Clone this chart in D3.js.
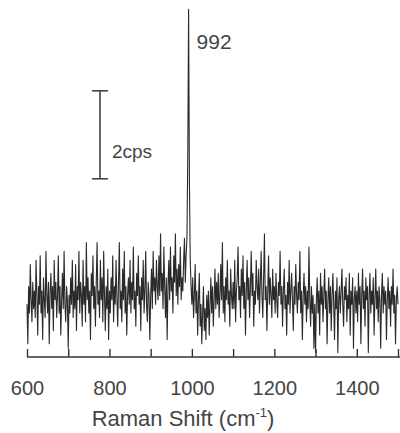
<!DOCTYPE html>
<html>
<head>
<meta charset="utf-8">
<script src="https://cdn.jsdelivr.net/npm/d3@7"></script>
<style>
  body { margin: 0; background: #fff; }
  svg { display: block; }
  text { font-family: "Liberation Sans", Arial, sans-serif; fill: #444; }
</style>
</head>
<body>
<svg id="chart"></svg>
<script>
// spectrum: counts per second every 2 cm-1 starting at 600
const shiftStart = 600;
const shiftStep = 2;
const cps = [
  // 600 - 698
  1.2, 0.3, 1.6, 1.0, 2.1, 1.3, 0.8, 1.7, 1.1, 1.5,
  0.9, 2.2, 1.4, 0.5, 1.6, 1.2, 2.3, 1.0, 1.5, 0.4,
  1.8, 1.3, 0.9, 2.4, 1.4, 1.0, 1.7, 0.3, 1.5, 1.9,
  1.1, 1.6, 0.6, 2.2, 1.3, 1.7, 0.9, 1.4, 2.3, 1.0,
  1.6, 0.5, 1.3, 1.9, 1.1, 2.4, 1.2, 0.8, 1.6, 1.3,
  // 700 - 798
  0.2, 1.4, 1.0, 1.8, 1.2, 2.2, 0.9, 1.5, 1.1, 2.1,
  0.6, 1.6, 1.3, 2.4, 1.0, 1.7, 1.4, 0.7, 2.2, 1.2,
  1.6, 0.8, 2.6, 1.3, 1.8, 1.0, 1.5, 0.4, 1.9, 1.4,
  2.3, 1.1, 1.6, 0.7, 1.7, 2.6, 1.2, 1.5, 0.9, 2.2,
  1.3, 1.8, 0.8, 2.4, 1.4, 0.6, 1.6, 1.1, 2.0, 0.4,
  // 800 - 898
  1.5, 1.0, 1.8, 1.3, 2.3, 0.8, 1.6, 1.2, 2.2, 1.4,
  0.7, 1.7, 2.6, 1.1, 1.5, 0.8, 2.0, 1.3, 2.4, 1.0,
  1.6, 0.5, 1.4, 1.8, 1.2, 2.2, 1.0, 1.7, 1.3, 2.5,
  1.1, 1.5, 0.7, 1.9, 1.4, 2.3, 1.2, 1.6, 0.6, 1.8,
  1.3, 2.2, 1.0, 1.5, 2.4, 1.2, 0.8, 1.7, 1.4, 0.4,
  // 900 - 998
  1.4, 2.0, 1.1, 2.4, 1.5, 1.8, 1.2, 2.2, 1.6, 1.3,
  2.3, 1.4, 2.8, 1.5, 1.9, 1.1, 2.5, 1.6, 0.9, 1.8,
  0.4, 1.6, 2.2, 1.3, 2.5, 1.5, 1.8, 1.0, 2.3, 1.7,
  2.8, 1.4, 2.0, 1.2, 2.1, 1.6, 2.5, 1.3, 1.8, 1.5,
  2.2, 2.7, 1.7, 2.3, 2.7, 4.5, 7.9, 4.0, 2.2, 1.6,
  // 1000 - 1098
  1.2, 1.8, 0.9, 1.4, 2.1, 1.0, 1.5, 0.5, 1.3, 1.9,
  0.7, 1.2, 0.3, 1.0, 1.6, 0.6, 1.1, 0.4, 1.4, 0.9,
  1.5, 0.5, 1.2, 1.8, 1.0, 1.6, 0.7, 1.3, 2.0, 1.1,
  1.7, 1.2, 1.9, 0.9, 1.4, 2.1, 1.3, 2.6, 1.0, 1.6,
  0.8, 1.8, 1.3, 2.2, 1.2, 1.5, 0.7, 2.0, 1.4, 1.1,
  // 1100 - 1198
  1.7, 1.1, 2.2, 0.8, 1.5, 1.8, 2.5, 1.3, 1.6, 0.9,
  2.0, 1.4, 2.3, 1.1, 1.7, 0.5, 1.5, 2.2, 1.3, 1.8,
  0.9, 1.6, 2.4, 1.4, 1.9, 0.7, 1.5, 1.2, 2.2, 1.6,
  1.3, 2.0, 1.0, 1.7, 2.4, 1.4, 0.9, 1.8, 2.8, 1.3,
  1.6, 0.6, 1.5, 2.3, 1.2, 1.8, 1.4, 0.9, 2.0, 1.3,
  // 1200 - 1298
  1.6, 1.0, 1.9, 1.3, 0.9, 1.7, 1.4, 2.4, 1.2, 1.6,
  0.7, 1.5, 2.0, 1.1, 1.4, 0.5, 1.7, 1.2, 2.2, 1.0,
  1.5, 1.9, 1.3, 0.6, 1.6, 1.2, 2.1, 1.4, 1.0, 1.7,
  1.3, 2.4, 1.0, 1.5, 0.4, 1.4, 1.9, 1.2, 1.6, 0.8,
  1.5, 1.1, 2.5, 1.3, 0.7, 1.6, 1.0, 1.4, 0.2, 1.2,
  // 1300 - 1398
  0.1, 1.3, 1.8, 1.0, 1.5, 0.5, 1.9, 1.2, 1.6, 0.8,
  1.4, 2.0, 1.1, 1.5, 0.3, 1.3, 1.8, 1.0, 1.6, 0.6,
  1.4, 1.9, 1.2, 0.4, 1.5, 1.1, 1.8, 0.1, 1.3, 1.6,
  1.0, 1.5, 2.0, 1.2, 0.7, 1.6, 1.3, 1.8, 0.8, 1.4,
  1.1, 1.9, 0.5, 1.5, 1.2, 1.8, 0.2, 1.3, 1.6, 1.0,
  // 1400 - 1500
  1.5, 0.8, 1.9, 1.2, 1.6, 0.3, 1.4, 2.0, 1.1, 1.5,
  0.7, 1.8, 1.3, 1.6, 0.1, 1.4, 1.9, 1.0, 1.5, 1.2,
  1.8, 0.5, 1.3, 2.0, 1.1, 1.5, 0.8, 1.6, 1.3, 0.2,
  1.4, 1.9, 1.0, 1.6, 1.2, 1.5, 0.4, 1.3, 1.8, 1.1,
  1.5, 0.7, 1.6, 1.2, 2.0, 1.0, 1.4, 0.3, 1.3, 1.6,
  1.2
];
const tickValues = [600, 700, 800, 900, 1000, 1100, 1200, 1300, 1400, 1500];
const tickLabels = [600, 800, 1000, 1200, 1400];
const peakShift = 992;
const peakLabel = "992";
const scaleBar = {shift: 777, from: 4.05, size: 2, label: "2cps"};

const width = 400, height = 433;
const margin = {top: 5, left: 27, right: 2, bottom: 76};

const svg = d3.select('#chart')
    .attr('width', width)
    .attr('height', height);

const data = cps.map((v, i) => ({shift: shiftStart + i * shiftStep, cps: v}));

const x = d3.scaleLinear()
    .domain([600, 1500])
    .range([margin.left, width - margin.right]);

const y = d3.scaleLinear()
    .domain([0, 8])
    .range([height - margin.bottom, margin.top]);

// spectrum line
const line = d3.line()
    .x(d => x(d.shift))
    .y(d => y(d.cps));

svg.append('path')
    .datum(data)
    .attr('fill', 'none')
    .attr('stroke', '#2a2a2a')
    .attr('stroke-width', 1.1)
    .attr('stroke-linejoin', 'round')
    .attr('d', line);

// x axis, ticks point up into the plot
const xAxis = d3.axisBottom(x)
    .tickValues(tickValues)
    .tickSizeInner(-8)
    .tickSizeOuter(0)
    .tickPadding(24)
    .tickFormat(d => tickLabels.includes(d) ? d : '');

const xAxisG = svg.append('g')
    .attr('transform', `translate(0,${y(0)})`)
    .call(xAxis);

xAxisG.select('.domain')
    .attr('stroke', '#333')
    .attr('stroke-width', 1.6)
    .attr('d', `M${x(600)},0H${width}`);
xAxisG.selectAll('.tick line')
    .attr('stroke', '#333')
    .attr('stroke-width', 1.4);
xAxisG.selectAll('.tick text')
    .style('font-family', '"Liberation Sans", Arial, sans-serif')
    .style('font-size', '20px')
    .attr('fill', '#555');

// axis title
const title = svg.append('text')
    .attr('x', 183)
    .attr('y', 426)
    .attr('text-anchor', 'middle')
    .style('font-size', '22px')
    .attr('fill', '#555');
title.append('tspan').text('Raman Shift (cm');
title.append('tspan').attr('dy', -9).style('font-size', '13px').text('-1');
title.append('tspan').attr('dy', 9).text(')');

// peak label
svg.append('text')
    .attr('x', x(peakShift) + 8)
    .attr('y', 49)
    .style('font-size', '21px')
    .attr('fill', '#444')
    .text(peakLabel);

// scale bar
const sb = svg.append('g').attr('stroke', '#444').attr('stroke-width', 1.6);
const sbx = x(scaleBar.shift);
sb.append('line')
    .attr('x1', sbx).attr('x2', sbx)
    .attr('y1', y(scaleBar.from)).attr('y2', y(scaleBar.from + scaleBar.size));
[scaleBar.from, scaleBar.from + scaleBar.size].forEach(v => {
  sb.append('line')
      .attr('x1', sbx - 8).attr('x2', sbx + 8)
      .attr('y1', y(v)).attr('y2', y(v));
});
svg.append('text')
    .attr('x', sbx + 12)
    .attr('y', 158)
    .style('font-size', '19px')
    .attr('fill', '#444')
    .text(scaleBar.label);
</script>
</body>
</html>
